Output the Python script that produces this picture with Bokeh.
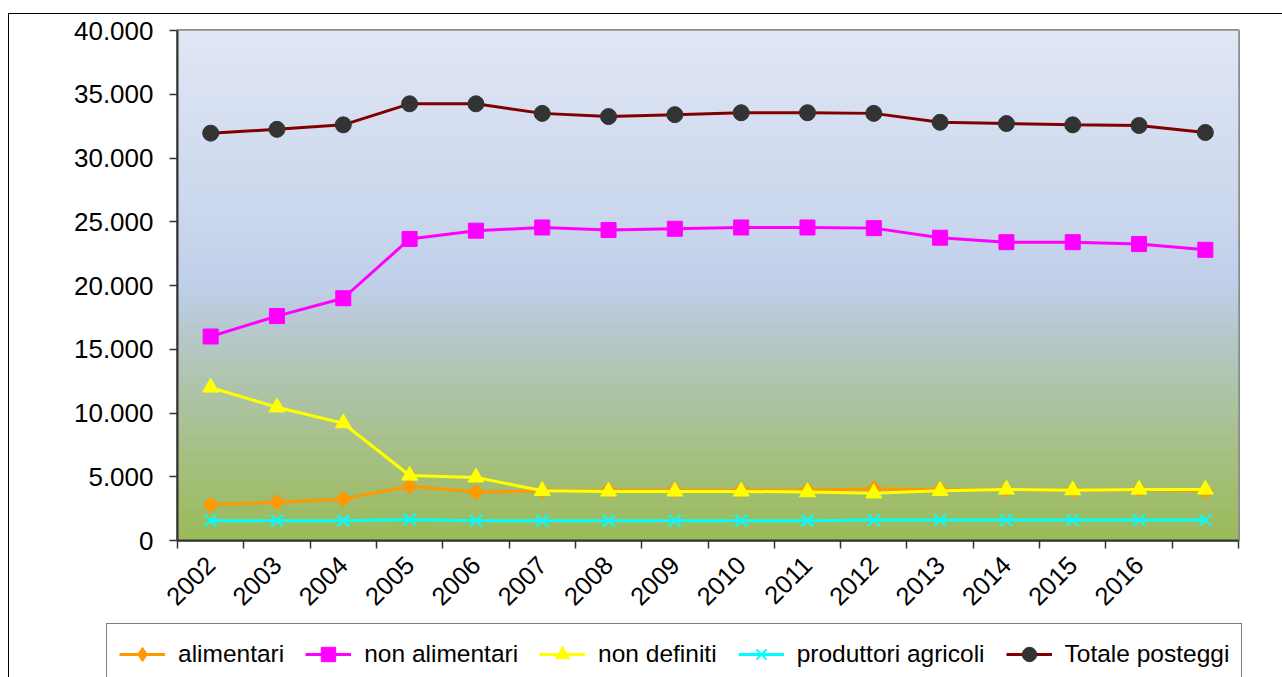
import math
import numpy as np
from bokeh.plotting import figure
from bokeh.layouts import column
from bokeh.models import (Range1d, FixedTicker, Legend, LegendItem, InlineStyleSheet)
from bokeh.embed import file_html
from bokeh.resources import INLINE

# ---- data ----
years = [2002, 2003, 2004, 2005, 2006, 2007, 2008, 2009, 2010, 2011, 2012,
         2013, 2014, 2015, 2016, 2017]
tick_labels = ["2002", "2003", "2004", "2005", "2006", "2007", "2008", "2009",
               "2010", "2011", "2012", "2013", "2014", "2015", "2016", ""]
alimentari = [2800, 3000, 3250, 4250, 3800, 3900, 3950, 3950, 3950, 3950,
              4050, 4000, 4000, 3950, 4000, 3900]
non_alimentari = [16000, 17600, 19000, 23650, 24300, 24550, 24350, 24450,
                  24550, 24550, 24500, 23750, 23400, 23400, 23250, 22800]
non_definiti = [12000, 10450, 9200, 5100, 4950, 3900, 3850, 3850, 3850,
                3800, 3700, 3900, 4000, 3950, 4000, 4000]
produttori_agricoli = [1550, 1550, 1550, 1650, 1550, 1550, 1550, 1550, 1550,
                       1550, 1600, 1600, 1600, 1600, 1600, 1600]
totale_posteggi = [31950, 32250, 32600, 34250, 34250, 33500, 33250, 33400,
                   33550, 33550, 33500, 32800, 32700, 32600, 32550, 32000]
series_names = ["alimentari", "non alimentari", "non definiti",
                "produttori agricoli", "Totale posteggi"]
y_ticks = [0, 5000, 10000, 15000, 20000, 25000, 30000, 35000, 40000]
y_tick_labels = ["0", "5.000", "10.000", "15.000", "20.000", "25.000",
                 "30.000", "35.000", "40.000"]

FONT = "Liberation Sans"
n = len(years)
xs = [i + 0.5 for i in range(n)]

fig = figure(width=1282, height=622, output_backend="svg", toolbar_location=None,
             x_range=Range1d(0, n), y_range=Range1d(0, 40000),
             min_border_left=177, min_border_right=44, min_border_top=30,
             min_border_bottom=82)
fig.border_fill_color = "white"
fig.outline_line_color = "#8c8c8c"
fig.outline_line_width = 3

# gradient background of plot area
stops = np.array([0.0, 0.35, 0.5, 0.62, 0.8, 1.0])
cols = np.array([[224, 231, 245], [204, 216, 238], [192, 207, 234],
                 [180, 199, 196], [168, 193, 140], [155, 187, 90]], dtype=float)
N = 256
tpos = np.linspace(1.0, 0.0, N)  # row 0 = bottom
rgb = np.stack([np.interp(tpos, stops, cols[:, k]) for k in range(3)], axis=1).astype(np.uint8)
img = np.empty((N, 2), dtype=np.uint32)
view = img.view(dtype=np.uint8).reshape((N, 2, 4))
view[:, :, 0] = rgb[:, None, 0]
view[:, :, 1] = rgb[:, None, 1]
view[:, :, 2] = rgb[:, None, 2]
view[:, :, 3] = 255
fig.image_rgba(image=[img], x=0, y=0, dw=n, dh=40000)

# grid
fig.xgrid.visible = False
fig.ygrid.ticker = FixedTicker(ticks=y_ticks)
fig.ygrid.grid_line_color = "#e6ece4"
fig.ygrid.grid_line_width = 1.5
fig.ygrid.level = "image"

# axes
ya = fig.yaxis[0]
ya.ticker = FixedTicker(ticks=y_ticks)
ya.major_label_overrides = {t: l for t, l in zip(y_ticks, y_tick_labels)}
ya.major_label_text_font = FONT
ya.major_label_text_font_size = "26px"
ya.major_label_text_color = "black"
ya.major_tick_out = 8
ya.major_tick_in = 0
ya.minor_tick_line_color = None
ya.major_tick_line_color = "#333333"
ya.major_tick_line_width = 1.5
ya.axis_line_color = "#333333"
ya.axis_line_width = 2
ya.major_label_standoff = 16

xa = fig.xaxis[0]
xa.ticker = FixedTicker(ticks=xs, minor_ticks=list(range(n + 1)))
xa.major_label_overrides = {x: l for x, l in zip(xs, tick_labels)}
xa.major_label_orientation = math.pi / 4
xa.major_label_text_font = FONT
xa.major_label_text_font_size = "25.5px"
xa.major_label_text_color = "black"
xa.major_tick_out = 0
xa.major_tick_in = 0
xa.minor_tick_out = 8
xa.minor_tick_in = 0
xa.minor_tick_line_color = "#333333"
xa.minor_tick_line_width = 1.5
xa.axis_line_color = "#333333"
xa.axis_line_width = 2
xa.major_label_standoff = 12

# series styles
values = [alimentari, non_alimentari, non_definiti, produttori_agricoli, totale_posteggi]
line_colors = ["#ff9900", "#ff00ff", "#ffff00", "#00ffff", "#800000"]
markers = [
    dict(marker="square", angle=math.pi / 4, size=11, fill_color="#ff9900", line_color="#ff9900"),
    dict(marker="square", size=15, fill_color="#ff00ff", line_color="#ff00ff"),
    dict(marker="triangle", size=16, fill_color="#ffff00", line_color="#ffff00"),
    dict(marker="x", size=17, line_color="#00ffff", line_width=2),
    dict(marker="circle", size=16, fill_color="#333333", line_color="#333333"),
]
for vals, color, mk in zip(values, line_colors, markers):
    fig.line(xs, vals, line_color=color, line_width=3)
    fig.scatter(xs, vals, **mk)

# legend strip (separate figure beneath the chart; its own renderers lie outside its range)
leg = figure(width=1282, height=55, output_backend="svg", toolbar_location=None,
             x_range=Range1d(-200, -100), y_range=Range1d(0, 40000),
             x_axis_location=None, y_axis_location=None,
             min_border_left=0, min_border_right=0, min_border_top=0, min_border_bottom=0)
leg.grid.visible = False
leg.outline_line_color = None
leg.background_fill_color = "white"
leg.border_fill_color = "white"
try:
    fig.frame_align = False
    leg.frame_align = False
except Exception:
    pass
legend_markers = [dict(mk) for mk in markers]
legend_markers[0] = dict(marker="diamond", size=16, fill_color="#ff9900", line_color="#ff9900")
items = []
for name, vals, color, mk in zip(series_names, values, line_colors, legend_markers):
    ln = leg.line(xs, vals, line_color=color, line_width=3)
    sc = leg.scatter(xs, vals, **mk)
    items.append(LegendItem(label=name, renderers=[ln, sc]))
legend = Legend(items=items, orientation="horizontal",
                location=(106, -8), margin=0, padding=12, spacing=21,
                glyph_width=46, glyph_height=36, label_height=36,
                label_standoff=13,
                label_text_font=FONT, label_text_font_size="24.5px",
                label_text_color="black",
                border_line_color="black", border_line_width=1,
                background_fill_color="white", background_fill_alpha=1.0)
leg.add_layout(legend, "center")

p = column(fig, leg, spacing=0)
# outer chart frame (page decoration)
p.stylesheets = [InlineStyleSheet(css=(
    ":host { position: relative; }"
    ":host::after { content: ''; position: absolute; left: 8px; top: 13px;"
    " right: 0; bottom: 0; border-left: 1px solid #000; border-top: 1px solid #000;"
    " pointer-events: none; z-index: 100; }"))]

open("out.html", "w").write(file_html(p, INLINE))
